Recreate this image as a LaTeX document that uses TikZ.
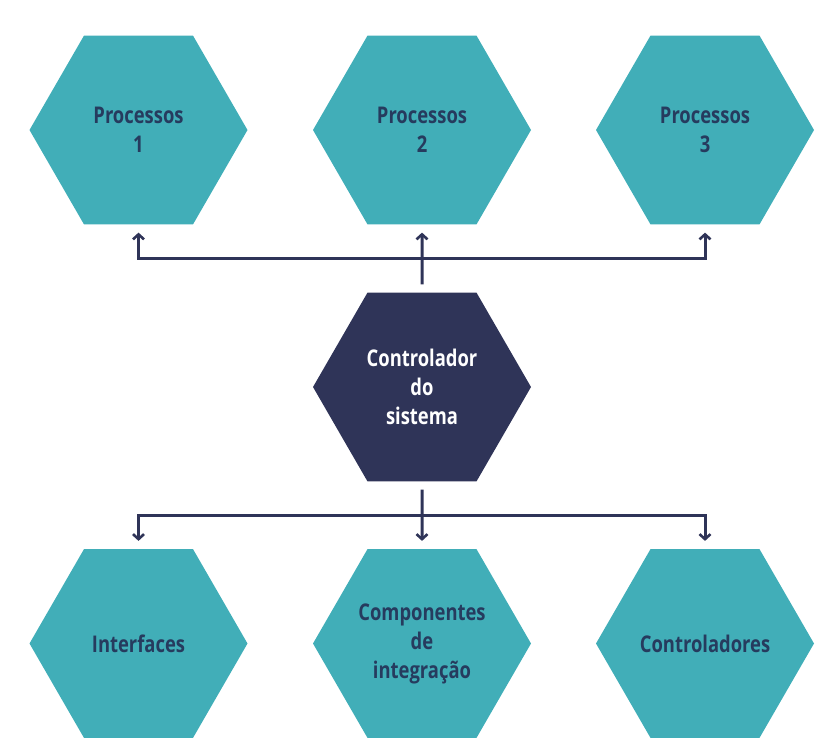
\documentclass[tikz,border=0pt]{standalone}
\usepackage{fontspec}
\setmainfont{Open Sans}[FakeStretch=0.8]
\usetikzlibrary{shapes.geometric,arrows.meta}
\definecolor{teal}{HTML}{41AEB8}
\definecolor{navy}{HTML}{2F3458}
\definecolor{hextext}{HTML}{263B5E}
\tikzset{
  hexbox/.style={regular polygon, regular polygon sides=6, minimum size=218pt, inner sep=0pt,
    fill=teal, text=hextext, font=\fontsize{23}{29}\selectfont\bfseries, align=center},
  hexmain/.style={hexbox, fill=navy, text=white},
  conn/.style={draw=navy, line width=3pt, -{Straight Barb[length=5pt,width=11pt,line width=2.6pt]}},
}
\begin{document}
\begin{tikzpicture}[x=1pt,y=-1pt]
\useasboundingbox (0,0) rectangle (836,748);
\node[hexbox] (p1) at (138.5,130) {Processos\\1};
\node[hexbox] (p2) at (422,130) {Processos\\2};
\node[hexbox] (p3) at (705,130) {Processos\\3};
\node[hexmain] (c) at (422,387) {Controlador\\do\\sistema};
\node[hexbox] (b1) at (138.5,643.5) {Interfaces};
\node[hexbox] (b2) at (422,643.5) {Componentes\\de\\integração};
\node[hexbox] (b3) at (705,643.5) {Controladores};
\coordinate (tb) at (422,258);
\coordinate (bb) at (422,515);
\draw[conn, shorten <=8pt, shorten >=8pt] (c.north) -- (p2.south);
\draw[conn, shorten >=8pt] (tb) -| (p1.south);
\draw[conn, shorten >=8pt] (tb) -| (p3.south);
\draw[conn, shorten <=8pt, shorten >=8pt] (c.south) -- (b2.north);
\draw[conn, shorten >=8pt] (bb) -| (b1.north);
\draw[conn, shorten >=8pt] (bb) -| (b3.north);
\end{tikzpicture}
\end{document}
